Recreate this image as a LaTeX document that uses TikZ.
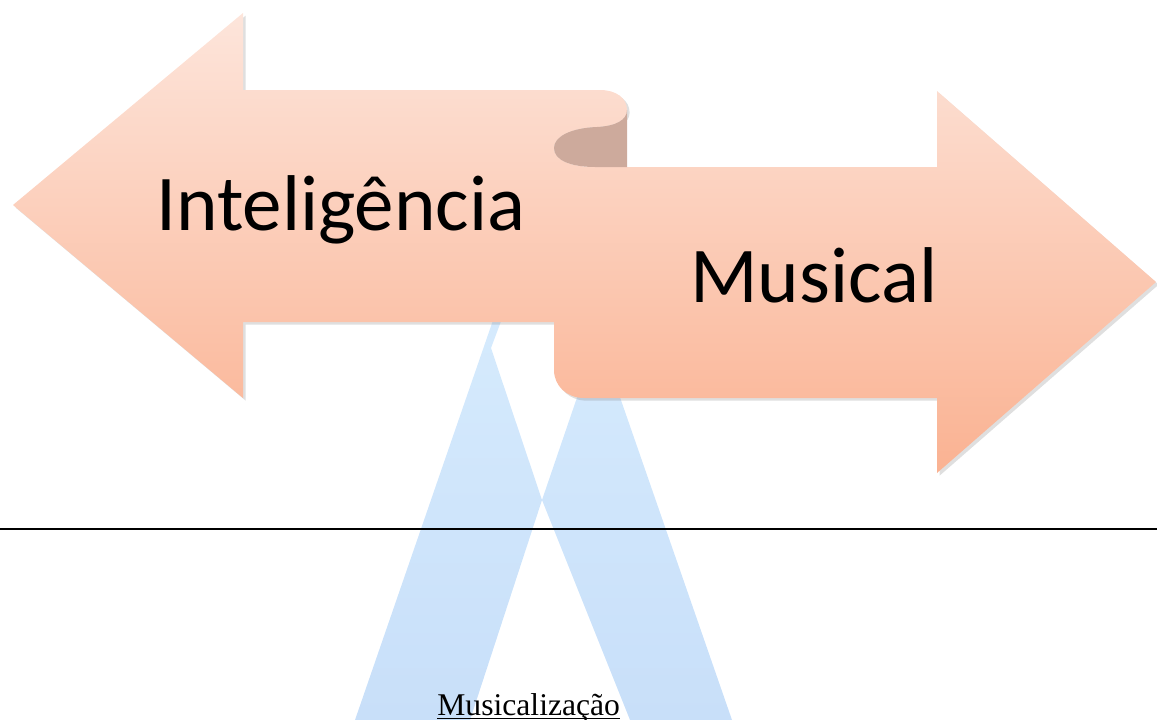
\documentclass[tikz,border=0pt]{standalone}
\usepackage{fontspec}
\setmainfont{Liberation Serif}
\newfontfamily\calibri{Carlito}
\usepackage{xcolor}
\usepackage{tikz}
\usetikzlibrary{shadows}

\definecolor{peachtop}{RGB}{253,229,219}
\definecolor{peachbot}{RGB}{250,178,146}
\definecolor{foldbrown}{RGB}{205,170,156}
\definecolor{skytop}{RGB}{214,235,253}
\definecolor{skybot}{RGB}{200,223,249}

\begin{document}
\begin{tikzpicture}[x=0.02cm, y=-0.02cm,
    peach/.style={top color=peachtop, bottom color=peachbot,
      drop shadow={opacity=0.25, shadow xshift=1.5pt, shadow yshift=-1.5pt}},
    sky/.style={top color=skytop, bottom color=skybot},
    word/.style={font=\calibri\fontsize{45}{45}\selectfont, inner sep=0pt, anchor=base west}]
    \useasboundingbox (0,0) rectangle (1157,720);

    % blue figure behind
    \path[sky] (355,720) -- (500,300) -- (509,300) -- (491,348) -- (542,500) -- (470,720) -- cycle
               (542,500) -- (583,380) -- (614,380) -- (732,720) -- (630,720) -- cycle;

    % both arrows, one shading
    \path[peach] (13,205) -- (243,13) -- (243,90) -- (600,90)
        .. controls (616,90) and (627,98) .. (627,110)
        .. controls (627,120) and (616,126) .. (597,127)
        .. controls (570,128) and (554,137) .. (554,148)
        -- (554,322) -- (243,322) -- (243,398) -- cycle
      (554,148) .. controls (554,160) and (570,167) .. (595,167)
        -- (937,167) -- (937,91) -- (1156,282) -- (937,473) -- (937,398) -- (584,398)
        .. controls (567,398) and (554,386) .. (554,370) -- cycle;
    % fold
    \fill[foldbrown] (627,110) .. controls (627,120) and (616,126) .. (597,127)
        .. controls (570,128) and (554,137) .. (554,148)
        .. controls (554,160) and (570,167) .. (595,167) -- (627,167) -- cycle;

    \node[word] at (156,230) (intel) {Inteligência};
    \node[word] at (690,302) (musical) {Musical};

    \coordinate (ruleL) at (0,529);
    \coordinate (ruleR) at (1157,529);
    \draw[line width=1.1pt] (ruleL) -- (ruleR);

    \node[font=\fontsize{18}{18}\selectfont, inner sep=0pt, anchor=base west] at (437,715) (musi) {Musicalização};
    \draw[line width=0.6pt] ([yshift=-2pt]musi.base west) -- ([yshift=-2pt]musi.base east);
  \end{tikzpicture}
\end{document}
